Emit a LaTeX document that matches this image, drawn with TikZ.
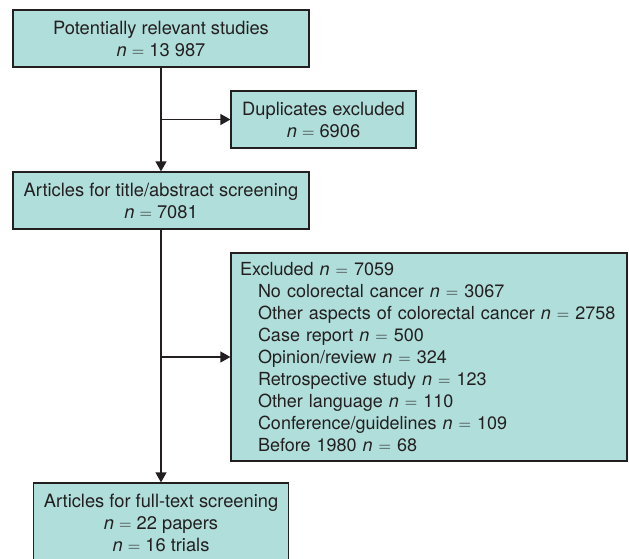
\documentclass[tikz,border=0pt]{standalone}
\usepackage{fontspec}
\setmainfont{TeX Gyre Heros}
\usetikzlibrary{arrows.meta}

\definecolor{boxfill}{RGB}{176,222,218}
\definecolor{ink}{RGB}{35,31,32}

\tikzset{
    flowbox/.style={draw=ink, fill=boxfill, line width=1.2pt, text=ink,
        font=\fontsize{18.3}{22}\selectfont, align=center, inner sep=0pt},
    flowarrow/.style={draw=ink, line width=1.2pt, -{Triangle[length=10pt,width=11pt]}},
}

\newcommand{\nn}{\textit{n} $=$}
\newcommand{\exitem}[1]{\mbox{\hspace*{18pt}#1}}

\begin{document}
\begin{tikzpicture}[x=1pt, y=-1pt]
    \useasboundingbox (0,0) rectangle (629,559);

    % Boxes
    \node (studies) at (161,38.5) [flowbox, minimum width=296pt, minimum height=57pt]
        {Potentially relevant studies\\ \nn{} 13 987};
    \node (dupl) at (323.5,119.5) [flowbox, minimum width=185pt, minimum height=57pt]
        {Duplicates excluded\\ \nn{} 6906};
    \node (title) at (161,200.5) [flowbox, minimum width=296pt, minimum height=57pt]
        {Articles for title/abstract screening\\ \nn{} 7081};
    \node (excl) at (429,357) [flowbox, minimum width=396pt, minimum height=208pt,
        text width=378pt, align=left, font=\fontsize{18}{22}\selectfont]
        {\mbox{Excluded \nn{} 7059}\\
        \exitem{No colorectal cancer \nn{} 3067}\\
        \exitem{Other aspects of colorectal cancer \nn{} 2758}\\
        \exitem{Case report \nn{} 500}\\
        \exitem{Opinion/review \nn{} 324}\\
        \exitem{Retrospective study \nn{} 123}\\
        \exitem{Other language \nn{} 110}\\
        \exitem{Conference/guidelines \nn{} 109}\\
        \exitem{Before 1980 \nn{} 68}};
    \node (full) at (161,523) [flowbox, minimum width=255pt, minimum height=80pt]
        {Articles for full-text screening\\ \nn{} 22 papers\\ \nn{} 16 trials};

    % Arrows
    % studies to title
    \draw[flowarrow] (studies) -- (title);
    \draw[flowarrow] (studies.south |- dupl.west) -- (dupl.west);
    % title to full text
    \draw[flowarrow] (title) -- (full);
    \draw[flowarrow] (title.south |- excl.west) -- (excl.west);

\end{tikzpicture}
\end{document}
